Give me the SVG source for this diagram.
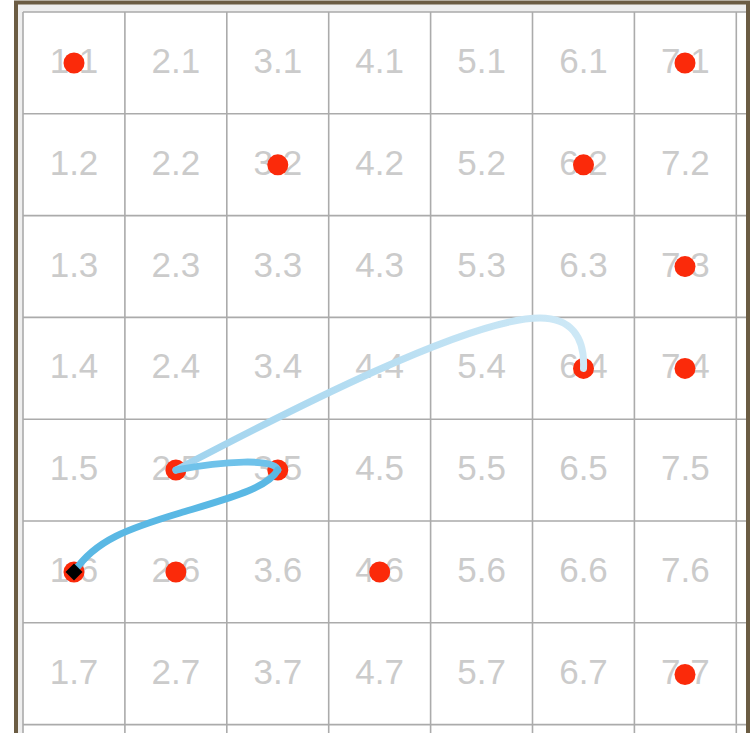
<svg xmlns="http://www.w3.org/2000/svg" width="754" height="733" viewBox="0 0 754 733">
<defs>
<style>
.lbl{font-family:"Liberation Sans",Arial,sans-serif;font-size:35px;fill:#cbcbcb;text-anchor:middle}
.grid{stroke:#ababab;stroke-width:1.6;fill:none}
.dot{fill:#fb2a0a}
.trail{fill:none;stroke-linecap:round;stroke-width:7}
</style>
<linearGradient id="fade" gradientUnits="userSpaceOnUse" x1="176" y1="470" x2="583" y2="368">
<stop offset="0" stop-color="#9fd3ee"/>
<stop offset="1" stop-color="#cde8f6"/>
</linearGradient>
</defs>
<rect x="16" y="2.5" width="732" height="800" fill="#eeeeee" stroke="#6b5c43" stroke-width="4"/>
<rect x="23" y="12" width="723" height="721" fill="#ffffff"/>
<g id="grid">
<path class="grid" d="M23,12V733M124.9,12V733M226.8,12V733M328.7,12V733M430.6,12V733M532.5,12V733M634.4,12V733M736.3,12V733M23,12H746M23,113.8H746M23,215.6H746M23,317.4H746M23,419.2H746M23,521H746M23,622.8H746M23,724.6H746"/>
</g>
<g id="cells">
<g id="c1-1"><text class="lbl" x="74" y="73">1.1</text></g>
<g id="c2-1"><text class="lbl" x="175.9" y="73">2.1</text></g>
<g id="c3-1"><text class="lbl" x="277.8" y="73">3.1</text></g>
<g id="c4-1"><text class="lbl" x="379.7" y="73">4.1</text></g>
<g id="c5-1"><text class="lbl" x="481.6" y="73">5.1</text></g>
<g id="c6-1"><text class="lbl" x="583.5" y="73">6.1</text></g>
<g id="c7-1"><text class="lbl" x="685.4" y="73">7.1</text></g>
<g id="c1-2"><text class="lbl" x="74" y="174.8">1.2</text></g>
<g id="c2-2"><text class="lbl" x="175.9" y="174.8">2.2</text></g>
<g id="c3-2"><text class="lbl" x="277.8" y="174.8">3.2</text></g>
<g id="c4-2"><text class="lbl" x="379.7" y="174.8">4.2</text></g>
<g id="c5-2"><text class="lbl" x="481.6" y="174.8">5.2</text></g>
<g id="c6-2"><text class="lbl" x="583.5" y="174.8">6.2</text></g>
<g id="c7-2"><text class="lbl" x="685.4" y="174.8">7.2</text></g>
<g id="c1-3"><text class="lbl" x="74" y="276.6">1.3</text></g>
<g id="c2-3"><text class="lbl" x="175.9" y="276.6">2.3</text></g>
<g id="c3-3"><text class="lbl" x="277.8" y="276.6">3.3</text></g>
<g id="c4-3"><text class="lbl" x="379.7" y="276.6">4.3</text></g>
<g id="c5-3"><text class="lbl" x="481.6" y="276.6">5.3</text></g>
<g id="c6-3"><text class="lbl" x="583.5" y="276.6">6.3</text></g>
<g id="c7-3"><text class="lbl" x="685.4" y="276.6">7.3</text></g>
<g id="c1-4"><text class="lbl" x="74" y="378.4">1.4</text></g>
<g id="c2-4"><text class="lbl" x="175.9" y="378.4">2.4</text></g>
<g id="c3-4"><text class="lbl" x="277.8" y="378.4">3.4</text></g>
<g id="c4-4"><text class="lbl" x="379.7" y="378.4">4.4</text></g>
<g id="c5-4"><text class="lbl" x="481.6" y="378.4">5.4</text></g>
<g id="c6-4"><text class="lbl" x="583.5" y="378.4">6.4</text></g>
<g id="c7-4"><text class="lbl" x="685.4" y="378.4">7.4</text></g>
<g id="c1-5"><text class="lbl" x="74" y="480.2">1.5</text></g>
<g id="c2-5"><text class="lbl" x="175.9" y="480.2">2.5</text></g>
<g id="c3-5"><text class="lbl" x="277.8" y="480.2">3.5</text></g>
<g id="c4-5"><text class="lbl" x="379.7" y="480.2">4.5</text></g>
<g id="c5-5"><text class="lbl" x="481.6" y="480.2">5.5</text></g>
<g id="c6-5"><text class="lbl" x="583.5" y="480.2">6.5</text></g>
<g id="c7-5"><text class="lbl" x="685.4" y="480.2">7.5</text></g>
<g id="c1-6"><text class="lbl" x="74" y="582">1.6</text></g>
<g id="c2-6"><text class="lbl" x="175.9" y="582">2.6</text></g>
<g id="c3-6"><text class="lbl" x="277.8" y="582">3.6</text></g>
<g id="c4-6"><text class="lbl" x="379.7" y="582">4.6</text></g>
<g id="c5-6"><text class="lbl" x="481.6" y="582">5.6</text></g>
<g id="c6-6"><text class="lbl" x="583.5" y="582">6.6</text></g>
<g id="c7-6"><text class="lbl" x="685.4" y="582">7.6</text></g>
<g id="c1-7"><text class="lbl" x="74" y="683.8">1.7</text></g>
<g id="c2-7"><text class="lbl" x="175.9" y="683.8">2.7</text></g>
<g id="c3-7"><text class="lbl" x="277.8" y="683.8">3.7</text></g>
<g id="c4-7"><text class="lbl" x="379.7" y="683.8">4.7</text></g>
<g id="c5-7"><text class="lbl" x="481.6" y="683.8">5.7</text></g>
<g id="c6-7"><text class="lbl" x="583.5" y="683.8">6.7</text></g>
<g id="c7-7"><text class="lbl" x="685.4" y="683.8">7.7</text></g>
</g>
<g id="dots">
<circle class="dot" cx="74" cy="63" r="10.5"/>
<circle class="dot" cx="685" cy="63" r="10.5"/>
<circle class="dot" cx="277.8" cy="164.8" r="10.5"/>
<circle class="dot" cx="583.5" cy="164.8" r="10.5"/>
<circle class="dot" cx="685" cy="266.6" r="10.5"/>
<circle class="dot" cx="583.5" cy="368.4" r="10.5"/>
<circle class="dot" cx="685" cy="368.4" r="10.5"/>
<circle class="dot" cx="175.9" cy="470" r="10.5"/>
<circle class="dot" cx="277.8" cy="470" r="10.5"/>
<circle class="dot" cx="74" cy="572" r="10.5"/>
<circle class="dot" cx="175.9" cy="572" r="10.5"/>
<circle class="dot" cx="379.7" cy="572" r="10.5"/>
<circle class="dot" cx="685" cy="674.5" r="10.5"/>
</g>
<g id="connectors">
<path class="trail" stroke="url(#fade)" d="M176,470 C290,410 470,318 540,318 C570,318 585,336 583.5,368.4"/>
<path class="trail" stroke="#6fc2ea" d="M277.8,470 C275,458 224,461 176,470"/>
<path class="trail" stroke="#5ab8e4" d="M74,572 C95,540 130,528 180,513 C230,498 268,488 277.8,470"/>
</g>
<g id="cursor">
<rect x="68" y="566" width="12" height="12" fill="#000000" transform="rotate(45 74 572)"/>
</g>
</svg>
